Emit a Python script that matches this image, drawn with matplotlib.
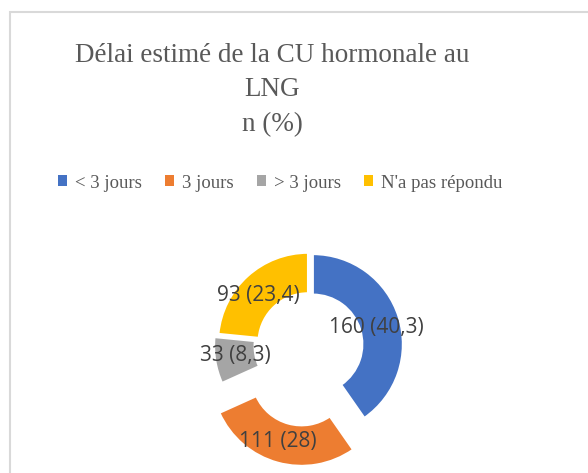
import matplotlib.pyplot as plt
from matplotlib.patches import Rectangle

# data
labels = ['< 3 jours', '3 jours', '> 3 jours', "N'a pas répondu"]
counts = [160, 111, 33, 93]
pcts = ['40,3', '28', '8,3', '23,4']
colors = ['#4472C4', '#ED7D31', '#A5A5A5', '#FFC000']
explode = [3, 32, 6, 3]  # pixels, the orange slice is pulled out

fig = plt.figure(figsize=(5.88, 4.73), dpi=100)

# light frame of the chart area
fig.patches.append(Rectangle((10 / 588, -0.05), 1.2, (473 - 12) / 473 + 0.05,
                             transform=fig.transFigure, fill=False,
                             edgecolor='#D9D9D9', linewidth=1.5))

# axes in pixel units, y going up
ax = fig.add_axes([0, 0, 1, 1])
cx, cy, r = 310, 473 - 345, 90
wedges, _ = ax.pie(counts, colors=colors, startangle=90, counterclock=False,
                   explode=explode, center=(cx, cy), radius=r,
                   wedgeprops=dict(width=r * 0.45, edgecolor='white', linewidth=1.5),
                   frame=True)
ax.set_xlim(0, 588)
ax.set_ylim(0, 473)
ax.set_aspect('equal')
ax.axis('off')

# data labels
label_pos = [(376, 327), (278, 442), (235, 355), (258, 295)]
for (x, y), n, p in zip(label_pos, counts, pcts):
    ax.text(x, 473 - y, f'{n} ({p})', ha='center', va='center',
            fontsize=15, color='#404040', family='Open Sans')

# title
fig.text(272 / 588, 1 - 90 / 473, 'Délai estimé de la CU hormonale au\nLNG\nn (%)',
         ha='center', va='center', fontsize=19.5, color='#595959',
         family='Liberation Serif', linespacing=1.5)

# legend
leg = fig.legend(wedges, labels, loc='center', bbox_to_anchor=(280 / 588, 1 - 183 / 473),
                 ncol=4, frameon=False, handlelength=0.5, handleheight=0.5,
                 handletextpad=0.4, columnspacing=1.25,
                 prop={'family': 'Liberation Serif', 'size': 13.5})
for t in leg.get_texts():
    t.set_color('#595959')
for h in leg.legend_handles:
    h.set_edgecolor('none')

fig.savefig('out.png', dpi=100)
